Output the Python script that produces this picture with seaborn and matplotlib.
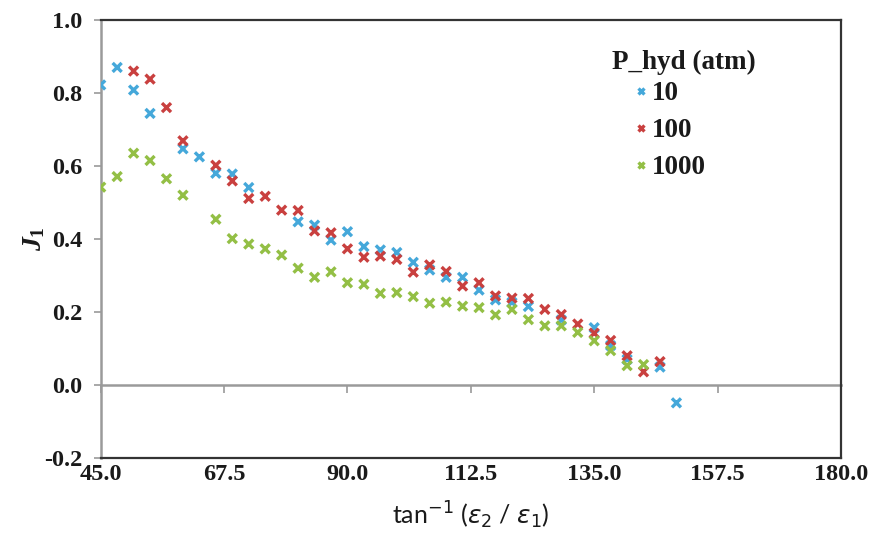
import numpy as np
import pandas as pd
import matplotlib
matplotlib.use("Agg")
import matplotlib.pyplot as plt
import seaborn as sns

# ---- data ----
series_names = ["10", "100", "1000"]

x_10 = [45, 48, 51, 54, 60, 63, 66, 69, 72, 81, 84, 87, 90, 93, 96, 99, 102, 105,
        108, 111, 114, 117, 120, 123, 129, 135, 138, 141, 147, 150]
y_10 = [0.822, 0.870, 0.808, 0.744, 0.647, 0.625, 0.580, 0.578, 0.541, 0.447, 0.438,
        0.397, 0.420, 0.379, 0.370, 0.363, 0.336, 0.315, 0.295, 0.295, 0.260, 0.233,
        0.226, 0.215, 0.178, 0.157, 0.108, 0.070, 0.049, -0.049]

x_100 = [51, 54, 57, 60, 66, 69, 72, 75, 78, 81, 84, 87, 90, 93, 96, 99, 102, 105,
         108, 111, 114, 117, 120, 123, 126, 129, 132, 135, 138, 141, 144, 147]
y_100 = [0.860, 0.838, 0.760, 0.669, 0.602, 0.559, 0.511, 0.517, 0.479, 0.478, 0.422,
         0.417, 0.373, 0.350, 0.353, 0.344, 0.309, 0.329, 0.311, 0.271, 0.280, 0.244,
         0.238, 0.237, 0.207, 0.193, 0.167, 0.142, 0.122, 0.080, 0.036, 0.064]

x_1000 = [45, 48, 51, 54, 57, 60, 66, 69, 72, 75, 78, 81, 84, 87, 90, 93, 96, 99,
          102, 105, 108, 111, 114, 117, 120, 123, 126, 129, 132, 135, 138, 141, 144]
y_1000 = [0.542, 0.571, 0.635, 0.615, 0.565, 0.520, 0.454, 0.401, 0.386, 0.373, 0.356,
          0.320, 0.295, 0.310, 0.280, 0.276, 0.251, 0.253, 0.242, 0.224, 0.227, 0.216,
          0.212, 0.192, 0.207, 0.179, 0.162, 0.162, 0.144, 0.121, 0.094, 0.053, 0.056]

x_ticks = [45.0, 67.5, 90.0, 112.5, 135.0, 157.5, 180.0]
y_ticks = [-0.2, 0.0, 0.2, 0.4, 0.6, 0.8, 1.0]

legend_title = "P_hyd (atm)"
colors = ["#45A8DA", "#C9403F", "#93BF45"]

df = pd.concat([
    pd.DataFrame({"x": x_10, "y": y_10, legend_title: series_names[0]}),
    pd.DataFrame({"x": x_100, "y": y_100, legend_title: series_names[1]}),
    pd.DataFrame({"x": x_1000, "y": y_1000, legend_title: series_names[2]}),
], ignore_index=True)

sns.set_style("white")
plt.rcParams["font.family"] = ["Liberation Serif", "DejaVu Serif"]
plt.rcParams["mathtext.fontset"] = "custom"
plt.rcParams["mathtext.it"] = "Liberation Serif:italic:bold"
plt.rcParams["mathtext.rm"] = "Liberation Serif:bold"
plt.rcParams["mathtext.bf"] = "Liberation Serif:bold"

fig = plt.figure(figsize=(8.88, 5.40), dpi=100)
ax = fig.add_axes([0.1134, 0.1519, 0.947 - 0.1134, 0.963 - 0.1519])

sns.scatterplot(data=df, x="x", y="y", hue=legend_title, hue_order=series_names,
                palette=colors, marker="x", s=42, linewidth=2.4,
                ax=ax, legend=True, zorder=3)

ax.set_xlim(45, 180)
ax.set_ylim(-0.2, 1.0)
ax.set_xticks(x_ticks)
ax.set_yticks(y_ticks)
ax.set_xticklabels([f"{v:.1f}" for v in x_ticks])
ax.set_yticklabels([f"{v:.1f}" for v in y_ticks])
for lab in ax.get_xticklabels() + ax.get_yticklabels():
    lab.set_fontweight("bold")
    lab.set_fontsize(17.5)
    lab.set_color("#1a1a1a")

ax.tick_params(axis="x", length=0, pad=4)
ax.tick_params(axis="y", direction="out", length=5, width=1.2, color="#9a9a9a",
               pad=8, left=True)

for side in ["top", "right", "bottom"]:
    ax.spines[side].set_color("#333333")
    ax.spines[side].set_linewidth(1.6)
ax.spines["left"].set_color("#9a9a9a")
ax.spines["left"].set_linewidth(1.8)

# horizontal axis line at y = 0 with tick marks
sec = ax.secondary_xaxis((0 - (-0.2)) / 1.2)
sec.set_xticks(x_ticks)
sec.tick_params(axis="x", direction="out", length=6, width=1.2, color="#9a9a9a",
                labelbottom=False, labeltop=False)
sec.spines["bottom"].set_color("#9a9a9a")
sec.spines["bottom"].set_linewidth(1.8)

ax.set_xlabel(r"tan$^{-1}$ ($\varepsilon_2$ / $\varepsilon_1$)", fontsize=18,
              family=["Lato", "DejaVu Sans"], math_fontfamily="dejavusans",
              color="#1a1a1a", labelpad=11)
ax.set_ylabel(r"$J_{\mathit{1}}$", fontsize=20, color="#1a1a1a", labelpad=-2)

handles, labels = ax.get_legend_handles_labels()
leg = ax.legend(handles, labels, loc="upper left", bbox_to_anchor=(0.721, 0.860),
                frameon=False, fontsize=19.5, markerscale=0.65,
                handletextpad=0.15, labelspacing=0.44, borderpad=0.0,
                borderaxespad=0.0, handlelength=0.5)
for t in leg.get_texts():
    t.set_fontweight("bold")
    t.set_color("#1a1a1a")
ax.text(0.691, 0.902, legend_title, transform=ax.transAxes, ha="left", va="center",
        fontsize=19.5, fontweight="bold", color="#1a1a1a")

fig.savefig("out.png", dpi=100)
